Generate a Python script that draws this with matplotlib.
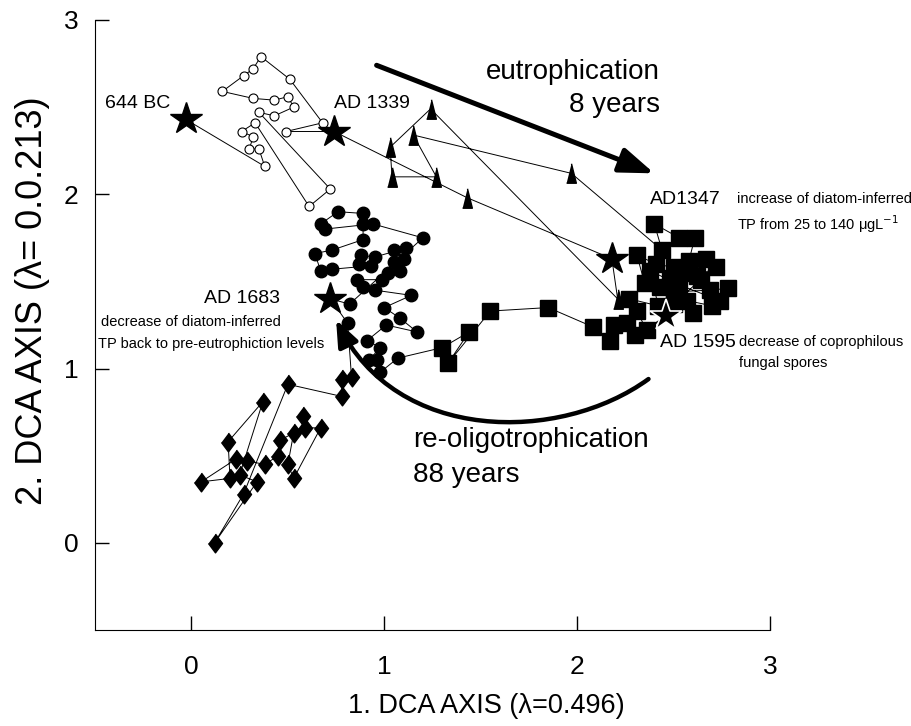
import numpy as np
import matplotlib
matplotlib.use("Agg")
import matplotlib.pyplot as plt
from matplotlib.patches import FancyArrowPatch
from matplotlib.path import Path

plt.rcParams['font.family'] = ['Liberation Sans', 'DejaVu Sans']

# sample scores on DCA axis 1 / axis 2, in path order
open_x = [0.38, 0.35, 0.30, 0.32, 0.26, 0.33, 0.61, 0.72, 0.35, 0.43, 0.53,
          0.50, 0.43, 0.32, 0.16, 0.27, 0.32, 0.36, 0.51, 0.68, 0.49]
open_y = [2.16, 2.26, 2.26, 2.33, 2.36, 2.41, 1.93, 2.03, 2.47, 2.45, 2.50,
          2.56, 2.54, 2.55, 2.59, 2.68, 2.72, 2.79, 2.66, 2.41, 2.36]

tri_x = [1.43, 2.21, 1.24, 1.03, 1.04, 1.27, 1.15, 1.97]
tri_y = [1.98, 1.40, 2.49, 2.27, 2.10, 2.10, 2.34, 2.12]

sq_x = [2.44, 2.40, 2.53, 2.61, 2.58, 2.67, 2.72, 2.62, 2.55, 2.50, 2.41,
        2.31, 2.35, 2.48, 2.43, 2.50, 2.69, 2.78, 2.70, 2.57, 2.60, 2.50,
        2.64, 2.74, 2.53, 2.38, 2.42, 2.27, 2.31, 2.36, 2.30, 2.26, 2.19,
        2.17, 2.08, 1.85, 1.55, 1.33, 1.44, 1.30]
sq_y = [1.68, 1.83, 1.75, 1.75, 1.62, 1.63, 1.58, 1.53, 1.55, 1.58, 1.60,
        1.65, 1.49, 1.52, 1.47, 1.44, 1.45, 1.46, 1.36, 1.39, 1.32, 1.37,
        1.51, 1.39, 1.48, 1.56, 1.36, 1.40, 1.33, 1.22, 1.19, 1.26, 1.25,
        1.16, 1.24, 1.35, 1.33, 1.03, 1.21, 1.12]

fc_x = [1.07, 0.98, 0.96, 0.92, 0.98, 0.91, 1.01, 1.17, 1.08, 1.00, 1.14,
        0.95, 0.89, 0.86, 0.99, 1.02, 1.08, 1.05, 1.10, 1.05, 1.11, 0.95,
        0.88, 0.87, 0.93, 0.73, 0.67, 0.64, 0.73, 0.89, 0.89, 0.89, 0.76,
        0.67, 0.69, 0.94, 1.20, 0.82]
fc_y = [1.06, 0.98, 1.05, 1.05, 1.12, 1.16, 1.25, 1.21, 1.29, 1.35, 1.42,
        1.45, 1.47, 1.51, 1.51, 1.55, 1.56, 1.61, 1.63, 1.68, 1.69, 1.64,
        1.65, 1.60, 1.59, 1.57, 1.56, 1.66, 1.68, 1.74, 1.83, 1.89, 1.90,
        1.83, 1.80, 1.83, 1.75, 1.37]
fc_last_x = [0.81]
fc_last_y = [1.26]

dia_x = [0.83, 0.78, 0.78, 0.50, 0.27, 0.12, 0.34, 0.25, 0.37, 0.19, 0.20,
         0.05, 0.23, 0.29, 0.38, 0.45, 0.46, 0.53, 0.50, 0.53, 0.67, 0.59,
         0.58]
dia_y = [0.95, 0.94, 0.84, 0.91, 0.28, 0.00, 0.35, 0.39, 0.81, 0.58, 0.37,
         0.35, 0.48, 0.47, 0.45, 0.50, 0.59, 0.63, 0.45, 0.37, 0.66, 0.66,
         0.73]

star_x = [-0.03, 0.74, 2.18, 2.46, 0.72]
star_y = [2.43, 2.36, 1.63, 1.30, 1.40]
star_lab = ['644 BC', 'AD 1339', 'AD1347', 'AD 1595', 'AD 1683']

# whole trajectory: stars sit between the sample groups
path_x = ([star_x[0]] + open_x + [star_x[1]] + tri_x[:1] + [star_x[2]] + tri_x[1:]
          + sq_x[:30] + [star_x[3]] + sq_x[30:] + fc_x + [star_x[4]]
          + fc_last_x + dia_x)
path_y = ([star_y[0]] + open_y + [star_y[1]] + tri_y[:1] + [star_y[2]] + tri_y[1:]
          + sq_y[:30] + [star_y[3]] + sq_y[30:] + fc_y + [star_y[4]]
          + fc_last_y + dia_y)

# big arrows (data coords)
eutro_from = (0.96, 2.74)
eutro_to = (2.40, 2.12)
oligo_curve = [(2.37, 0.94), (1.91, 0.57), (1.06, 0.57), (0.75, 1.28)]

tall_tri = [(-0.5, -1), (0.5, -1), (0, 1)]
tall_dia = [(0, 1), (0.75, 0), (0, -1), (-0.75, 0)]

fig = plt.figure(figsize=(9.12, 7.26), dpi=100)
ax = fig.add_axes([0.1042, 0.1322, 0.7401, 0.8403])

ax.plot(path_x, path_y, color='black', lw=0.7, zorder=1)
ax.plot(open_x, open_y, 'o', ms=6.5, mfc='white', mec='black', mew=0.8, zorder=2)
ax.plot(tri_x, tri_y, marker=tall_tri, ls='none', ms=14, color='black', zorder=2)
ax.plot(sq_x, sq_y, 's', ms=11.5, color='black', zorder=2)
ax.plot(fc_x + fc_last_x, fc_y + fc_last_y, 'o', ms=9, color='black', zorder=2)
ax.plot(dia_x, dia_y, marker=tall_dia, ls='none', ms=13.5, color='black', zorder=2)
ax.plot(star_x[:3] + star_x[4:], star_y[:3] + star_y[4:], '*', ms=24, color='black', zorder=3)
ax.plot(star_x[3], star_y[3], '*', ms=24, mfc='black', mec='white', mew=1.2, zorder=3)

ax.set_xlim(-0.5, 3)
ax.set_ylim(-0.5, 3)
ax.set_xticks([0, 1, 2, 3])
ax.set_yticks([0, 1, 2, 3])
ax.spines['top'].set_visible(False)
ax.spines['right'].set_visible(False)
ax.tick_params(direction='in', length=10, width=1, labelsize=19)
ax.tick_params(axis='x', pad=18)
ax.tick_params(axis='y', pad=12)
ax.set_xlabel('1. DCA AXIS (λ=0.496)', fontsize=19.5, labelpad=10, x=0.58)
ax.set_ylabel('2. DCA AXIS (λ= 0.0.213)', fontsize=26, labelpad=10, y=0.54)

# labels of the dated samples
ax.text(-0.45, 2.52, star_lab[0], fontsize=14, va='center')
ax.text(0.74, 2.52, star_lab[1], fontsize=14, va='center')
ax.text(2.38, 1.97, star_lab[2], fontsize=14, va='center')
ax.text(2.43, 1.15, star_lab[3], fontsize=14, va='center')
ax.text(0.46, 1.40, star_lab[4], fontsize=14, va='center', ha='right')

ax.text(2.83, 1.97, 'increase of diatom-inferred', fontsize=10.5, va='center')
ax.text(2.83, 1.83, 'TP from 25 to 140 μgL$^{-1}$', fontsize=10.5, va='center')
ax.text(0.465, 1.27, 'decrease of diatom-inferred', fontsize=10.5, va='center', ha='right')
ax.text(0.69, 1.14, 'TP back to pre-eutrophiction levels', fontsize=10.5, va='center', ha='right')
ax.text(2.84, 1.15, 'decrease of coprophilous', fontsize=10.5, va='center')
ax.text(2.84, 1.03, 'fungal spores', fontsize=10.5, va='center')

ax.text(2.43, 2.70, 'eutrophication', fontsize=20, va='center', ha='right')
ax.text(2.43, 2.51, '8 years', fontsize=20, va='center', ha='right')
ax.text(1.15, 0.59, 're-oligotrophication', fontsize=20, va='center')
ax.text(1.15, 0.39, '88 years', fontsize=20, va='center')

ax.annotate('', xy=eutro_to, xytext=eutro_from,
            arrowprops=dict(arrowstyle='-|>,head_length=0.55,head_width=0.2', lw=3.6,
                            color='black', mutation_scale=38, shrinkA=0, shrinkB=0))
curve = Path(oligo_curve, [Path.MOVETO, Path.CURVE4, Path.CURVE4, Path.CURVE4])
ax.add_patch(FancyArrowPatch(path=curve, arrowstyle='-|>,head_length=0.5,head_width=0.2',
                             lw=3.2, color='black', mutation_scale=32))

fig.savefig('out.png', dpi=100)
